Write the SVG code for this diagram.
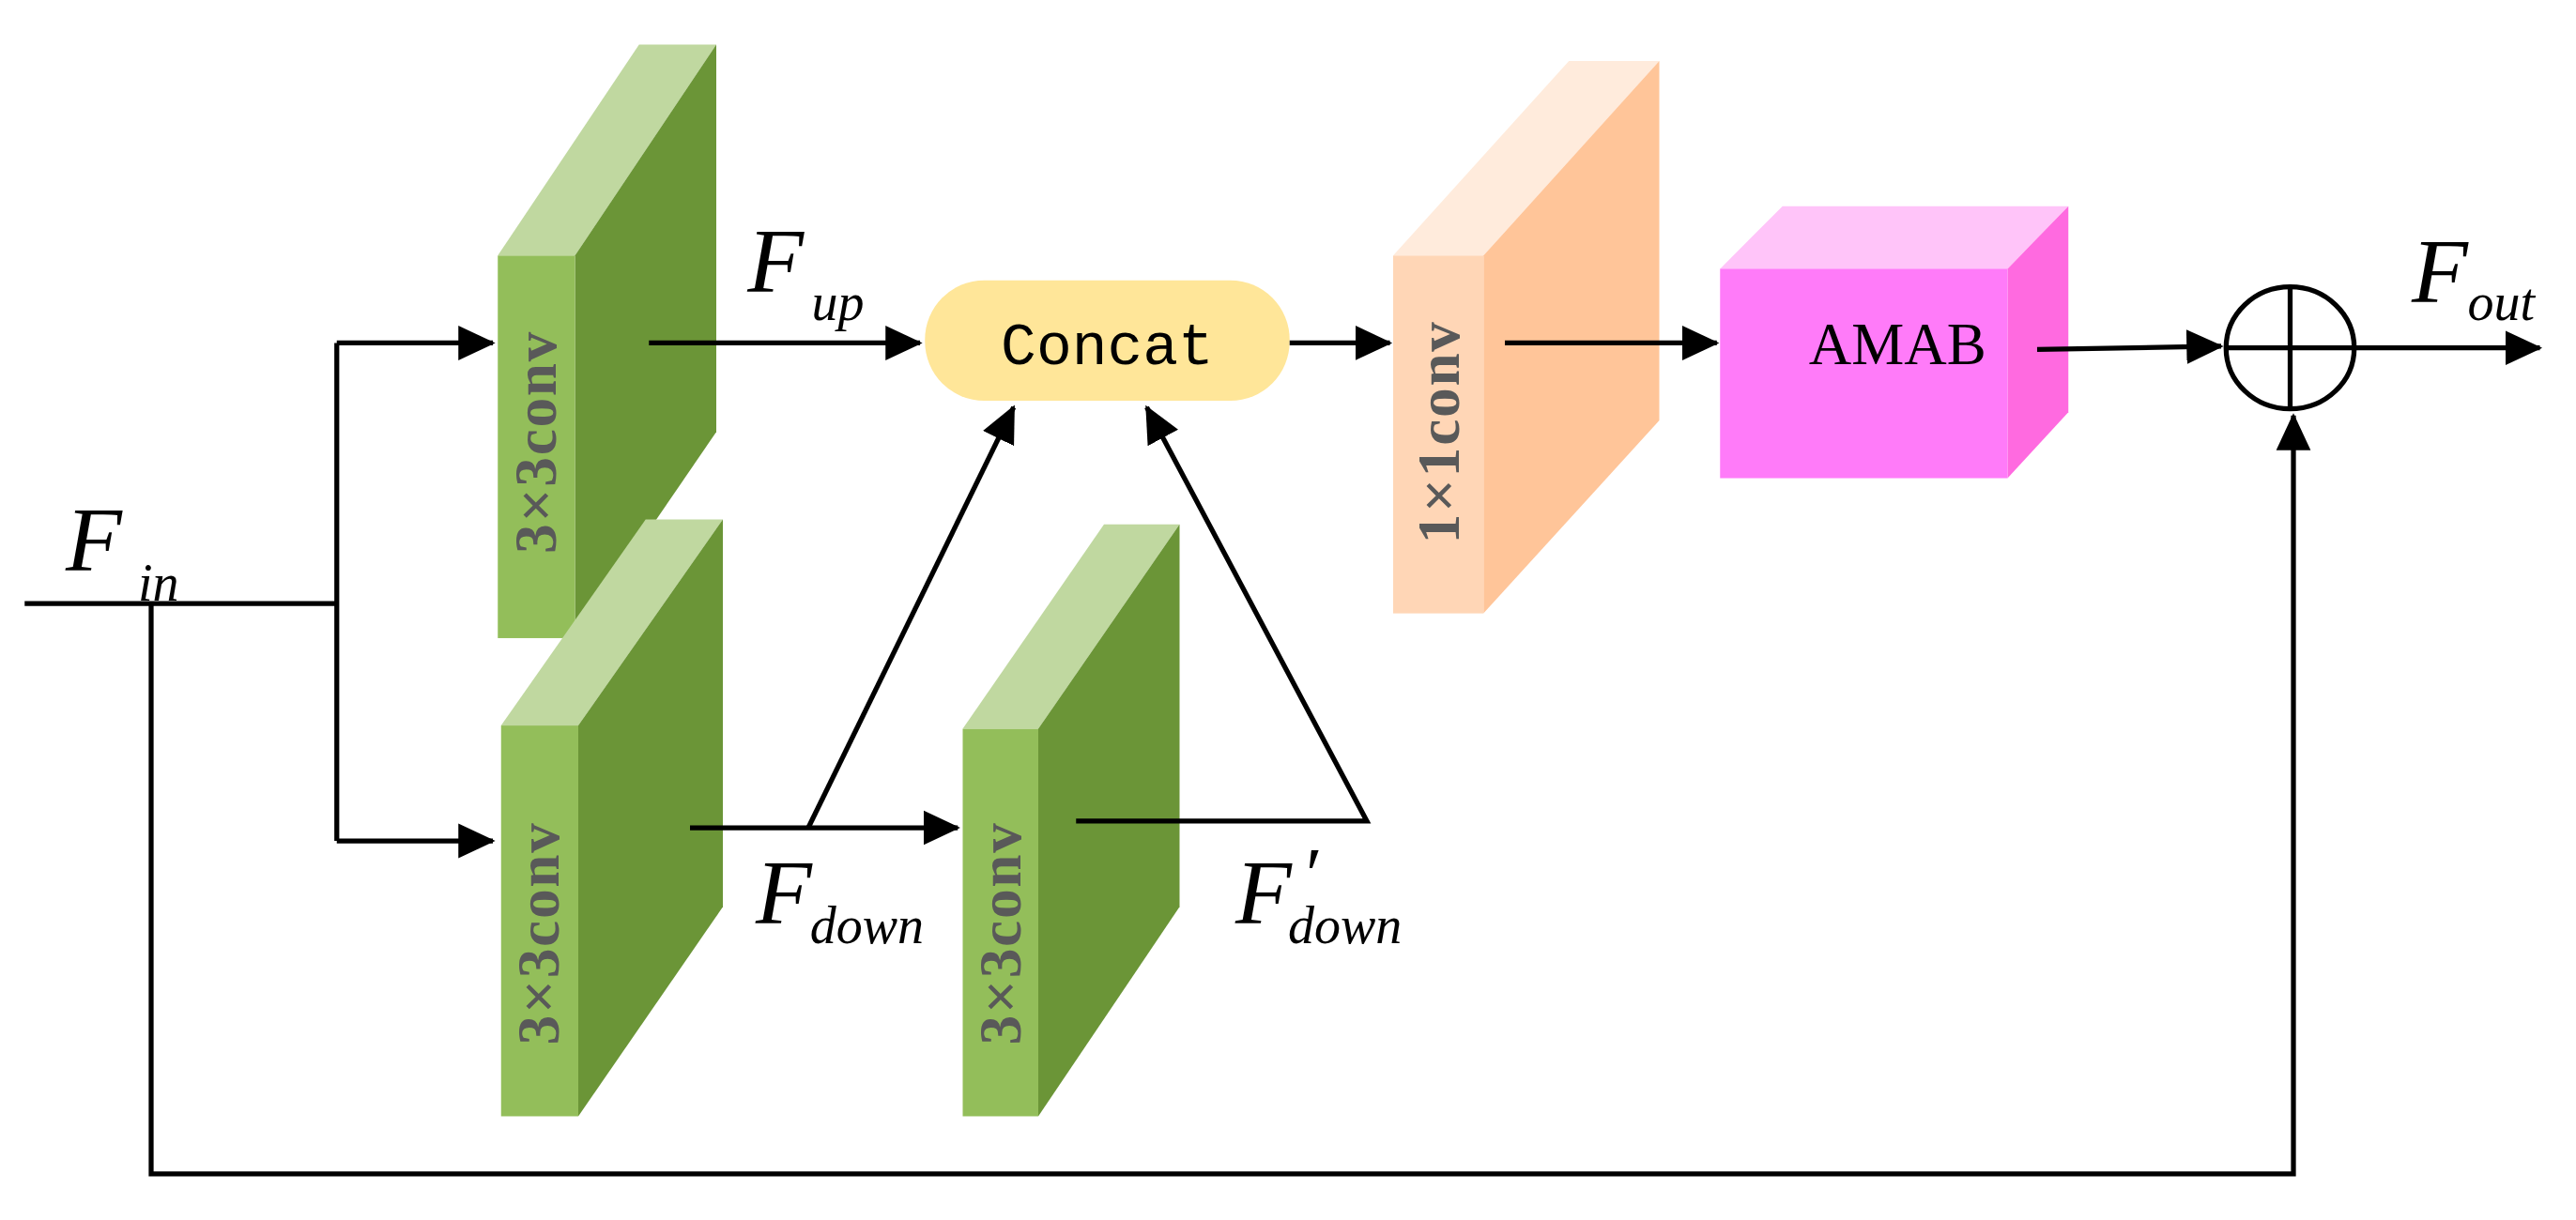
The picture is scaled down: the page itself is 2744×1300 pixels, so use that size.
<svg xmlns="http://www.w3.org/2000/svg" width="2744" height="1300" viewBox="0 0 2744 1300">
<style>
.ln{stroke:#000;stroke-width:3;fill:none}
.vt{font-family:"Liberation Serif",serif;font-weight:bold;font-size:36px;fill:#595959;text-anchor:middle;letter-spacing:1px}
.it{font-family:"Liberation Serif",serif;font-style:italic;fill:#000}
</style>
<defs><marker id="a" markerWidth="8" markerHeight="8" refX="7" refY="4" orient="auto" markerUnits="strokeWidth"><path d="M0,0.5L7.5,4L0,7.5z" fill="#000"/></marker></defs>
<rect width="2744" height="1300" fill="#fff"/>
<g transform="scale(1.75,1.757)">
<g id="conv1"><polygon points="303,155 350,155 436,27 389,27" fill="#C0D8A0"/><polygon points="350,155 436,27 436,262 350,387" fill="#6B9537"/><rect x="303" y="155" width="47" height="232" fill="#93BE5A"/><text class="vt" transform="translate(338,268) rotate(-90)">3×3conv</text></g>
<g id="conv2"><polygon points="305,440 352,440 440,315 393,315" fill="#C0D8A0"/><polygon points="352,440 440,315 440,550 352,677" fill="#6B9537"/><rect x="305" y="440" width="47" height="237" fill="#93BE5A"/><text class="vt" transform="translate(340,566) rotate(-90)">3×3conv</text></g>
<g id="conv3"><polygon points="586,442 632,442 718,318 672,318" fill="#C0D8A0"/><polygon points="632,442 718,318 718,550 632,677" fill="#6B9537"/><rect x="586" y="442" width="46" height="235" fill="#93BE5A"/><text class="vt" transform="translate(621,566) rotate(-90)">3×3conv</text></g>
<g id="conv1x1"><polygon points="848,155 903,155 1010,37 955,37" fill="#FFEBDC"/><polygon points="903,155 1010,37 1010,255 903,372" fill="#FFC599"/><rect x="848" y="155" width="55" height="217" fill="#FFD6B6"/><text class="vt" transform="translate(888,262) rotate(-90)">1×1conv</text></g>
<g id="amab"><polygon points="1047,163 1222,163 1259,125 1085,125" fill="#FFC4F9"/><polygon points="1222,163 1259,125 1259,250 1222,290" fill="#FF6AE0"/><rect x="1047" y="163" width="175" height="127" fill="#FF7BF9"/><text x="1155" y="221" font-family="Liberation Serif,serif" font-size="36" text-anchor="middle">AMAB</text></g>
<g id="concat"><rect x="563" y="170" width="222" height="73" rx="36" fill="#FFE699"/><text x="674" y="221" font-family="Liberation Mono,monospace" font-size="36" text-anchor="middle">Concat</text></g>
<g id="sum"><ellipse cx="1394" cy="211" rx="39" ry="37" class="ln"/><line x1="1355" y1="211" x2="1433" y2="211" class="ln"/><line x1="1394" y1="174" x2="1394" y2="248" class="ln"/></g>
<g id="connectors">
<path class="ln" d="M15,366H205"/>
<path class="ln" d="M205,208V510"/>
<path class="ln" d="M205,208H300" marker-end="url(#a)"/>
<path class="ln" d="M205,510H300" marker-end="url(#a)"/>
<path class="ln" d="M92,366V712H1396V252" marker-end="url(#a)"/>
<path class="ln" d="M395,208H560" marker-end="url(#a)"/>
<path class="ln" d="M785,208H846" marker-end="url(#a)"/>
<path class="ln" d="M916,208H1045" marker-end="url(#a)"/>
<path class="ln" d="M1240,212L1352,210" marker-end="url(#a)"/>
<path class="ln" d="M1433,211H1546" marker-end="url(#a)"/>
<path class="ln" d="M420,502H583" marker-end="url(#a)"/>
<path class="ln" d="M492,502L617,247" marker-end="url(#a)"/>
<path class="ln" d="M655,498H832L698,247" marker-end="url(#a)"/>
</g>
<g id="labels">
<text class="it" x="40" y="346" font-size="56">F</text><text class="it" x="84" y="364" font-size="32">in</text>
<text class="it" x="455" y="177" font-size="56">F</text><text class="it" x="494" y="194" font-size="32">up</text>
<text class="it" x="460" y="560" font-size="56">F</text><text class="it" x="493" y="572" font-size="32">down</text>
<text class="it" x="752" y="560" font-size="56">F</text><text class="it" x="792" y="546" font-size="46">′</text><text class="it" x="784" y="572" font-size="32">down</text>
<text class="it" x="1468" y="183" font-size="56">F</text><text class="it" x="1502" y="194" font-size="32">out</text>
</g>
</g>
</svg>
